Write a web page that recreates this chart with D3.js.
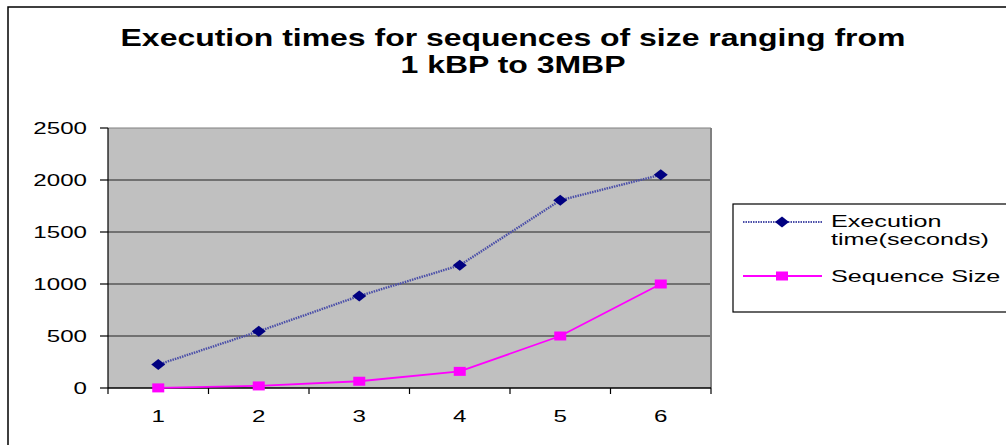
<!DOCTYPE html>
<html lang="en">
<head>
<meta charset="UTF-8">
<title>Execution times</title>
<style>
  body { margin: 0; background: #fff; }
  text { font-family: "Liberation Sans", Arial, sans-serif; fill: #000; }
</style>
</head>
<body>
<svg width="1006" height="445"></svg>
<script src="https://d3js.org/d3.v7.min.js"></script>
<script>
// data
var categories = ["1", "2", "3", "4", "5", "6"];
var execTime = [225, 545, 885, 1180, 1805, 2050];
var seqSize = [1, 20, 65, 160, 500, 1000];
var yTicks = [0, 500, 1000, 1500, 2000, 2500];
var seriesNames = ["Execution time(seconds)", "Sequence Size"];

var svg = d3.select("svg");
var stretch = 1.42; // the original text is wider than normal Arial

var plot = { left: 108, right: 711, top: 128, bottom: 388 };

var x = d3.scaleBand().domain(categories).range([plot.left, plot.right]);
var y = d3.scaleLinear().domain([0, 2500]).range([plot.bottom, plot.top]);

// outer chart border
svg.append("rect")
  .attr("x", 8).attr("y", 7)
  .attr("width", 1100).attr("height", 500)
  .attr("fill", "none").attr("stroke", "#000").attr("stroke-width", 1.5);

// title
var title = ["Execution times for sequences of size ranging from", "1 kBP to 3MBP"];
var titleY = [46, 73];
title.forEach(function(t, i) {
  svg.append("text")
    .attr("transform", "translate(513," + titleY[i] + ") scale(1.36,1)")
    .attr("text-anchor", "middle")
    .style("font-size", "23.5px")
    .style("font-weight", "bold")
    .text(t);
});

// plot background
svg.append("rect")
  .attr("x", plot.left).attr("y", plot.top)
  .attr("width", plot.right - plot.left).attr("height", plot.bottom - plot.top)
  .attr("fill", "#c0c0c0");

// gridlines
svg.append("g").selectAll("line")
  .data(yTicks.filter(function(d) { return d > 0; }))
  .enter().append("line")
  .attr("x1", plot.left).attr("x2", plot.right)
  .attr("y1", function(d) { return y(d); }).attr("y2", function(d) { return y(d); })
  .attr("stroke", function(d) { return d === 2500 ? "#808080" : "#222"; })
  .attr("stroke-width", 1.2);

// right border of plot area
svg.append("line")
  .attr("x1", plot.right).attr("x2", plot.right)
  .attr("y1", plot.top).attr("y2", plot.bottom)
  .attr("stroke", "#808080").attr("stroke-width", 2);

// y axis
var yAxis = svg.append("g");
yAxis.append("line")
  .attr("x1", plot.left).attr("x2", plot.left)
  .attr("y1", plot.top).attr("y2", plot.bottom)
  .attr("stroke", "#000").attr("stroke-width", 1.2);
var yt = yAxis.selectAll("g").data(yTicks).enter().append("g");
yt.append("line")
  .attr("x1", plot.left - 8).attr("x2", plot.left)
  .attr("y1", function(d) { return y(d); }).attr("y2", function(d) { return y(d); })
  .attr("stroke", "#000").attr("stroke-width", 1.2);
yt.append("text")
  .attr("transform", function(d) { return "translate(87," + (y(d) + 6) + ") scale(" + stretch + ",1)"; })
  .attr("text-anchor", "end")
  .style("font-size", "17px")
  .text(function(d) { return d; });

// x axis
var xAxis = svg.append("g");
xAxis.append("line")
  .attr("x1", plot.left).attr("x2", plot.right)
  .attr("y1", plot.bottom).attr("y2", plot.bottom)
  .attr("stroke", "#000").attr("stroke-width", 1.5);
var bounds = categories.map(function(c) { return x(c); }).concat([plot.right]);
xAxis.selectAll(".tick").data(bounds).enter().append("line")
  .attr("x1", function(d) { return d; }).attr("x2", function(d) { return d; })
  .attr("y1", plot.bottom).attr("y2", plot.bottom + 6)
  .attr("stroke", "#000").attr("stroke-width", 1.2);
xAxis.selectAll("text").data(categories).enter().append("text")
  .attr("transform", function(d) { return "translate(" + (x(d) + x.bandwidth() / 2) + ",422) scale(" + stretch + ",1)"; })
  .attr("text-anchor", "middle")
  .style("font-size", "17px")
  .text(function(d) { return d; });

var cx = function(d, i) { return x(categories[i]) + x.bandwidth() / 2; };
var line = d3.line().x(cx).y(function(d) { return y(d); });

// sequence size (magenta)
svg.append("path").datum(seqSize)
  .attr("d", line)
  .attr("fill", "none").attr("stroke", "#ff00ff").attr("stroke-width", 1.8);
svg.append("g").selectAll("rect").data(seqSize).enter().append("rect")
  .attr("x", function(d, i) { return cx(d, i) - 6; })
  .attr("y", function(d) { return y(d) - 4.5; })
  .attr("width", 12).attr("height", 9)
  .attr("fill", "#ff00ff");

// execution time (navy, dotted)
svg.append("path").datum(execTime)
  .attr("d", line)
  .attr("fill", "none").attr("stroke", "#4a4ea8").attr("stroke-width", 2.4)
  .attr("stroke-dasharray", "1.5,1");
var diamond = "M0,-5.5 L7,0 L0,5.5 L-7,0 Z";
svg.append("g").selectAll("path").data(execTime).enter().append("path")
  .attr("transform", function(d, i) { return "translate(" + cx(d, i) + "," + y(d) + ")"; })
  .attr("d", diamond)
  .attr("fill", "#000080");

// legend
var lg = svg.append("g");
var legStretch = 1.48;
lg.append("rect")
  .attr("x", 733).attr("y", 204).attr("width", 400).attr("height", 108)
  .attr("fill", "#fff").attr("stroke", "#000").attr("stroke-width", 1.2);

lg.append("line")
  .attr("x1", 743).attr("x2", 822).attr("y1", 222).attr("y2", 222)
  .attr("stroke", "#4a4ea8").attr("stroke-width", 2).attr("stroke-dasharray", "1.5,1");
lg.append("path")
  .attr("transform", "translate(782,222)")
  .attr("d", diamond).attr("fill", "#000080");
// first legend label wraps onto two lines
var t1 = lg.append("text")
  .attr("transform", "translate(831,226.5) scale(" + legStretch + ",1)")
  .style("font-size", "17px");
t1.append("tspan").attr("x", 0).attr("y", 0).text("Execution");
t1.append("tspan").attr("x", 0).attr("y", 19).text("time(seconds)");

lg.append("line")
  .attr("x1", 743).attr("x2", 822).attr("y1", 276).attr("y2", 276)
  .attr("stroke", "#ff00ff").attr("stroke-width", 1.8);
lg.append("rect")
  .attr("x", 776).attr("y", 271.5).attr("width", 12).attr("height", 9)
  .attr("fill", "#ff00ff");
lg.append("text")
  .attr("transform", "translate(831,282) scale(" + legStretch + ",1)")
  .style("font-size", "17px")
  .text(seriesNames[1]);
</script>
</body>
</html>
